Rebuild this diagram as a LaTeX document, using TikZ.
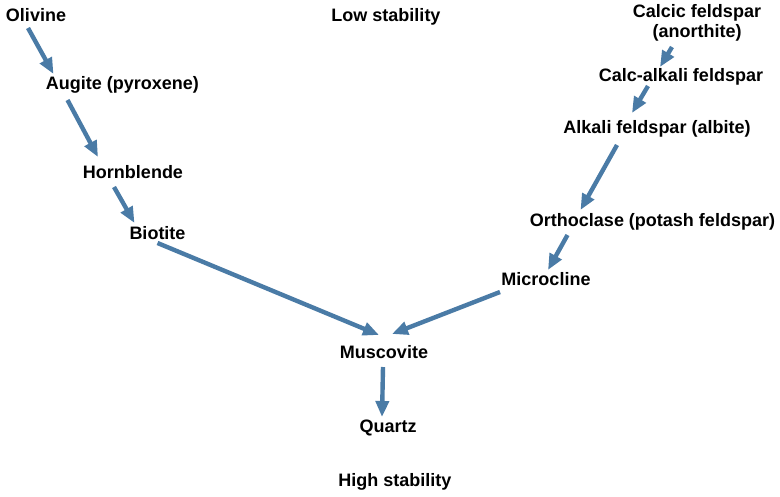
\documentclass[tikz,border=0pt]{standalone}
\usepackage{fontspec}
\setmainfont{Liberation Sans}
\usetikzlibrary{arrows.meta,calc}
\definecolor{arrowblue}{HTML}{4A7BA6}
\begin{document}
\begin{tikzpicture}[x=1pt,y=-1pt,
  lbl/.style={font=\fontsize{18}{20}\selectfont\bfseries, inner sep=1pt, align=center},
  arr/.style={draw=arrowblue, line width=4.4pt, -{Triangle[length=16pt,width=13pt]}}]
\useasboundingbox (0,0) rectangle (780,496);
\node[lbl] (olivine) at (36,15) {Olivine};
\node[lbl] (low) at (386,17) {Low stability};
\node[lbl] (calcic) at (697,23) {Calcic feldspar\\(anorthite)};
\node[lbl] (augite) at (122.5,85) {Augite (pyroxene)};
\node[lbl] (calcalk) at (681,77) {Calc-alkali feldspar};
\node[lbl] (alkali) at (657,129) {Alkali feldspar (albite)};
\node[lbl] (hornblende) at (133,172) {Hornblende};
\node[lbl] (orthoclase) at (652.5,222) {Orthoclase (potash feldspar)};
\node[lbl] (biotite) at (157.5,233) {Biotite};
\node[lbl] (microcline) at (546,279) {Microcline};
\node[lbl] (muscovite) at (384,352) {Muscovite};
\node[lbl] (quartz) at (388,428) {Quartz};
\node[lbl] (high) at (395,482) {High stability};

\draw[arr] ($(olivine.center)+(-8,13)$) -- ($(augite.center)+(-69,-11)$);
\draw[arr] ($(augite.center)+(-55,15)$) -- ($(hornblende.center)+(-35,-15)$);
\draw[arr] ($(hornblende.center)+(-19,15)$) -- ($(biotite.center)+(-23,-10)$);
\draw[arr] ($(biotite.center)+(0,10)$) -- ($(muscovite.center)+(-5,-17)$);
\draw[arr] ($(microcline.center)+(-46,13)$) -- ($(muscovite.center)+(8,-18)$);
\draw[arr] ($(muscovite.center)+(-1,15)$) -- ($(quartz.center)+(-6,-11)$);
\draw[arr] ($(calcic.center)+(-25,24)$) -- ($(calcalk.center)+(-21,-10)$);
\draw[arr] ($(calcalk.center)+(-33,9)$) -- ($(alkali.center)+(-25,-16)$);
\draw[arr] ($(alkali.center)+(-40,16)$) -- ($(orthoclase.center)+(-72,-12)$);
\draw[arr] ($(orthoclase.center)+(-85,13)$) -- ($(microcline.center)+(2,-9)$);
\end{tikzpicture}
\end{document}
